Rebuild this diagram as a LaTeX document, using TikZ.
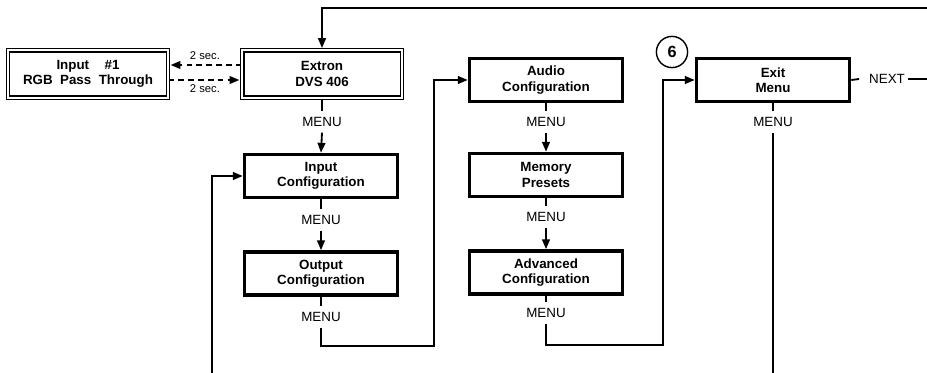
\documentclass[tikz,border=0pt]{standalone}
\usepackage{fontspec}
\setmainfont{Liberation Sans}
\usetikzlibrary{positioning,calc,arrows.meta}

\begin{document}
\begin{tikzpicture}[x=0.025cm,y=-0.025cm,
    menubox/.style={draw, line width=2.7pt, minimum width=3.82cm, minimum height=1.07cm,
        align=center, inner sep=0pt, font=\fontsize{9.5}{11}\selectfont\bfseries},
    dispbox/.style={draw, double, double distance=1.3pt, line width=1pt, minimum width=3.99cm,
        minimum height=1.19cm, align=center, inner sep=0pt, font=\fontsize{9.5}{11}\selectfont\bfseries},
    menulbl/.style={inner xsep=2pt, inner ysep=4pt, font=\fontsize{9.5}{11}\selectfont},
    seclbl/.style={inner sep=1pt, font=\fontsize{8}{9}\selectfont},
    conn/.style={line width=1.3pt},
    flow/.style={conn, -{Triangle[length=7pt,width=5.5pt]}},
    wait/.style={flow, dash pattern=on 4pt off 3pt, shorten >=1.5pt}]
    \useasboundingbox (0,0) rectangle (927,373);

    \node[dispbox] (ext) at (322,74) {Extron\\DVS 406};
    \node[dispbox] (inp) at (88,74) {Input\hspace{11pt}\#1\\RGB\ \ Pass\ \ Through};
    \node[menubox] (cfgin) at (321,176) {Input\\Configuration};
    \node[menubox] (cfgout) at (321,273.5) {Output\\Configuration};
    \node[menubox] (audio) at (546,80) {Audio\\Configuration};
    \node[menubox] (preset) at (546,175) {Memory\\Presets};
    \node[menubox] (adv) at (546,272.5) {Advanced\\Configuration};
    \node[menubox] (exit) at (773,80) {Exit\\Menu};
    \node[draw, circle, line width=1pt, minimum size=0.78cm, inner sep=0pt,
        font=\fontsize{11.5}{12}\selectfont\bfseries] (six) at (672,52) {6};

    \node[menulbl] (m1) at (322,122) {MENU};
    \node[menulbl] (m2) at (321,220) {MENU};
    \node[menulbl] (m3) at (321,317) {MENU};
    \node[menulbl] (m4) at (546,122) {MENU};
    \node[menulbl] (m5) at (546,217) {MENU};
    \node[menulbl] (m6) at (546,313) {MENU};
    \node[menulbl] (m7) at (773,122) {MENU};
    \node[menulbl] (nx) at (887,79) {NEXT};

    \node[seclbl] (s1) at (205,56) {2 sec.};
    \node[seclbl] (s2) at (205,89) {2 sec.};

    \coordinate (topR) at (927,8);
    \coordinate (loopB) at (212,373);
    \coordinate (j1) at (434,346);
    \coordinate (j2) at (663,345);
    \coordinate (exitB) at (773,373);
    \coordinate (nxR) at (927,79);

    \draw[flow, shorten >=1pt] (topR) -| (ext.north);
    \draw[wait] (ext.west |- 0,65) -- (inp.east |- 0,65);
    \draw[wait] (inp.east |- 0,80) -- (ext.west |- 0,80);

    \draw[conn] (ext.south) -- (m1.north);
    \draw[flow] (m1.south) -- (cfgin.north);
    \draw[conn] (cfgin.south) -- (m2.north);
    \draw[flow] (m2.south) -- (cfgout.north);
    \draw[conn] (cfgout.south) -- (m3.north);
    \draw[flow] (m3.south) |- (j1) |- (audio.west);
    \draw[flow] (loopB) |- (cfgin.west);

    \draw[conn] (audio.south) -- (m4.north);
    \draw[flow] (m4.south) -- (preset.north);
    \draw[conn] (preset.south) -- (m5.north);
    \draw[flow] (m5.south) -- (adv.north);
    \draw[conn] (adv.south) -- (m6.north);
    \draw[flow] (m6.south) |- (j2) |- (exit.west);

    \draw[conn] (exit.south) -- (m7.north);
    \draw[conn] (m7.south) -- (exitB);
    \draw[conn] (exit.east) -- ([xshift=-5pt]nx.west);
    \draw[conn] (nx.east) -- (nxR);
\end{tikzpicture}
\end{document}
